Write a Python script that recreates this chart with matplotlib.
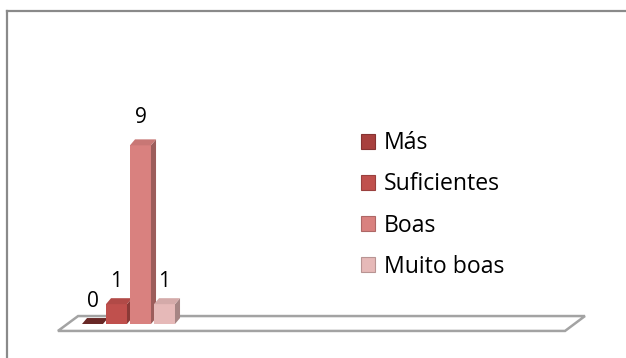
import matplotlib
matplotlib.use("Agg")
from matplotlib import pyplot as plt
from matplotlib.patches import Polygon, Patch
from matplotlib.lines import Line2D
from matplotlib.colors import to_rgb

categories = ["Más", "Suficientes", "Boas", "Muito boas"]
values = [0, 1, 9, 1]
colors = ["#A8403E", "#C0504D", "#D9817F", "#E6B9B8"]

plt.rcParams["font.family"] = ["Open Sans", "DejaVu Sans"]


def shade(color, factor):
    r, g, b = to_rgb(color)
    return (r * factor, g * factor, b * factor)


fig = plt.figure(figsize=(6.26, 3.58), dpi=100)
ax = fig.add_axes([0, 0, 1, 1])
ax.set_xlim(-3.854, 22.23)
ax.set_ylim(-1.713, 16.32)
ax.axis("off")

# outer chart border (top and left edges are visible)
fig.add_artist(Line2D([7 / 626, 7 / 626], [0, 1 - 11 / 358], color="#8a8a8a", lw=1.6))
fig.add_artist(Line2D([7 / 626, 1], [1 - 11 / 358, 1 - 11 / 358], color="#8a8a8a", lw=1.6))

# pseudo 3D depth offsets (data units)
dx = 0.21
dy = 0.30
width = 0.875

# floor slab
floor = Polygon([(-1.44, -0.35), (-0.60, 0.40), (20.52, 0.40), (19.69, -0.35)],
                closed=True, facecolor="white", edgecolor="#a3a3a3", lw=1.8, zorder=1)
ax.add_patch(floor)

for i, (v, c) in enumerate(zip(values, colors)):
    x0 = i - width / 2
    x1 = i + width / 2
    z = 2 + i
    # front face
    ax.bar(i, v, width=width, color=c, edgecolor="none", zorder=z)
    # right side face
    ax.add_patch(Polygon([(x1, 0), (x1 + dx, dy), (x1 + dx, v + dy), (x1, v)],
                         closed=True, facecolor=shade(c, 0.72), edgecolor="none", zorder=z))
    # top face
    top_c = shade(c, 0.62) if v == 0 else shade(c, 0.92)
    ax.add_patch(Polygon([(x0, v), (x0 + dx, v + dy), (x1 + dx, v + dy), (x1, v)],
                         closed=True, facecolor=top_c, edgecolor="none", zorder=z))
    ax.annotate(str(v), xy=(i, v), xytext=(0, 12 if v < 5 else 16), textcoords="offset points",
                ha="center", va="baseline", fontsize=15, color="black", zorder=10)

handles = [Patch(facecolor=c, edgecolor=shade(c, 0.8), lw=0.8) for c in colors]
ax.legend(handles, categories, loc="center left", bbox_to_anchor=(361 / 626, 1 - 205 / 358),
          bbox_transform=fig.transFigure, frameon=False, fontsize=16.6,
          handlelength=0.6, handleheight=0.6, handletextpad=0.4,
          labelspacing=0.74, borderpad=0, borderaxespad=0)

fig.savefig("out.png", dpi=100)
